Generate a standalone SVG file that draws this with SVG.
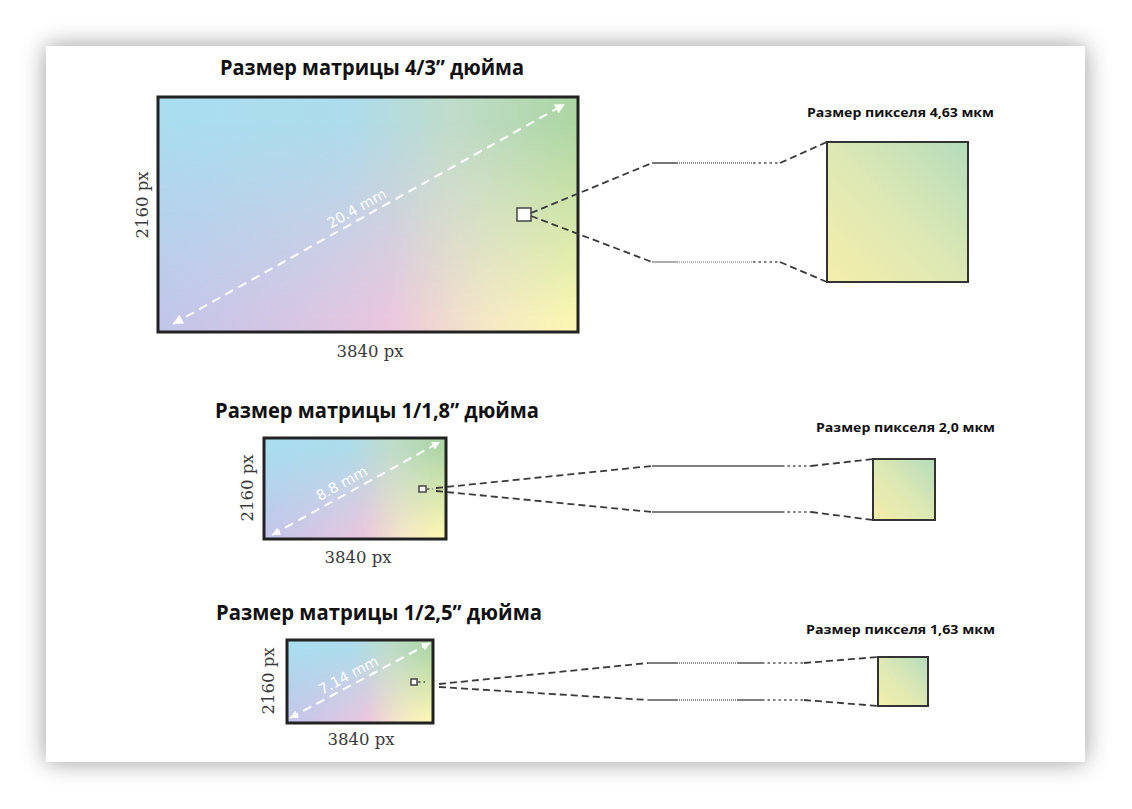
<svg xmlns="http://www.w3.org/2000/svg" width="1132" height="809" viewBox="0 0 1132 809">
<defs>
<style>
.title{font-family:"Open Sans","Liberation Sans",sans-serif;font-weight:700;font-size:21px;fill:#111}
.plabel{font-family:"Open Sans","Liberation Sans",sans-serif;font-weight:700;font-size:12.5px;fill:#111}
.dim{font-family:"DejaVu Serif","Liberation Serif",serif;font-size:16.5px;fill:#3a3a3a}
.diag{font-family:"DejaVu Sans","Liberation Sans",sans-serif;font-size:14.5px;fill:#fff}
.sensor{stroke:#222;stroke-width:3}
.pix{stroke:#333;stroke-width:2;fill:url(#pixg)}
.mark{fill:#fff;stroke:#444;stroke-width:1.5}
.dl{fill:none;stroke:#fff;stroke-width:2;stroke-dasharray:9 6}
.dash{fill:none;stroke:#3a3a3a;stroke-width:1.8;stroke-dasharray:7 4}
.solid{fill:none;stroke:#555;stroke-width:1.6}
.fine{fill:none;stroke:#666;stroke-width:1.6;stroke-dasharray:1 1}
.dot{fill:none;stroke:#555;stroke-width:1.6;stroke-dasharray:2.5 3}
</style>
<filter id="shadow" x="-10%" y="-10%" width="120%" height="120%">
<feDropShadow dx="0" dy="0" stdDeviation="12" flood-color="#000" flood-opacity="0.4"/>
</filter>
<linearGradient id="topg" x1="0" y1="0" x2="1" y2="0">
<stop offset="0" stop-color="#a9deef"/>
<stop offset="0.45" stop-color="#addcec"/>
<stop offset="0.7" stop-color="#c0dccb"/>
<stop offset="1" stop-color="#acd6a2"/>
</linearGradient>
<linearGradient id="botg" x1="0" y1="0" x2="1" y2="0">
<stop offset="0" stop-color="#c2c6ea"/>
<stop offset="0.3" stop-color="#d4c6e4"/>
<stop offset="0.55" stop-color="#eac6de"/>
<stop offset="0.78" stop-color="#f4e8c6"/>
<stop offset="1" stop-color="#fbf8b0"/>
</linearGradient>
<linearGradient id="vmask" x1="0" y1="0" x2="0" y2="1">
<stop offset="0.1" stop-color="#000"/>
<stop offset="0.95" stop-color="#fff"/>
</linearGradient>
<mask id="bm" maskContentUnits="objectBoundingBox">
<rect x="0" y="0" width="1" height="1" fill="url(#vmask)"/>
</mask>
<linearGradient id="pixg" x1="0" y1="1" x2="1" y2="0">
<stop offset="0" stop-color="#f4eeaa"/>
<stop offset="0.5" stop-color="#dde8b4"/>
<stop offset="1" stop-color="#b4dcbc"/>
</linearGradient>
<marker id="ah" viewBox="0 0 10 10" refX="10" refY="5" markerUnits="userSpaceOnUse" markerWidth="13" markerHeight="10" orient="auto-start-reverse">
<path d="M0,0 L10,5 L0,10 Z" fill="#fff"/>
</marker>
<marker id="ahs" viewBox="0 0 10 10" refX="10" refY="5" markerUnits="userSpaceOnUse" markerWidth="10" markerHeight="8" orient="auto-start-reverse">
<path d="M0,0 L10,5 L0,10 Z" fill="#fff"/>
</marker>
</defs>
<rect x="0" y="0" width="1132" height="809" fill="#fff"/>
<rect x="46" y="46" width="1039" height="716" fill="#fff" filter="url(#shadow)"/>

<g id="sensor-43">
<text class="title" x="220" y="75" textLength="304" lengthAdjust="spacingAndGlyphs">Размер матрицы 4/3” дюйма</text>
<rect x="158" y="97" width="420" height="235" fill="url(#topg)"/>
<rect x="158" y="97" width="420" height="235" fill="url(#botg)" mask="url(#bm)"/>
<rect x="158" y="97" width="420" height="235" fill="none" class="sensor"/>
<path class="dl" d="M173,324 L565,104" marker-start="url(#ah)" marker-end="url(#ah)"/>
<text class="diag" text-anchor="middle" transform="translate(362,218) rotate(-29.3)" x="0" y="-6">20.4 mm</text>
<rect class="mark" x="517" y="208" width="14" height="13"/>
<text class="dim" text-anchor="middle" transform="translate(148,205) rotate(-90)">2160 px</text>
<text class="dim" text-anchor="middle" x="370" y="357">3840 px</text>
</g>

<g id="pixel-463">
<text class="plabel" x="807" y="117" textLength="187" lengthAdjust="spacingAndGlyphs">Размер пикселя 4,63 мкм</text>
<rect class="pix" x="827" y="142" width="141" height="140"/>
</g>

<g id="sensor-118">
<text class="title" x="215" y="418" textLength="324" lengthAdjust="spacingAndGlyphs">Размер матрицы 1/1,8” дюйма</text>
<rect x="264" y="438" width="182" height="101" fill="url(#topg)"/>
<rect x="264" y="438" width="182" height="101" fill="url(#botg)" mask="url(#bm)"/>
<rect x="264" y="438" width="182" height="101" fill="none" class="sensor"/>
<path class="dl" d="M272,535 L440,442" marker-start="url(#ahs)" marker-end="url(#ahs)"/>
<text class="diag" text-anchor="middle" transform="translate(347,493) rotate(-29)" x="0" y="-6">8.8 mm</text>
<rect class="mark" x="419" y="486" width="7" height="6" stroke-width="1.3"/>
<text class="dim" text-anchor="middle" transform="translate(253,488) rotate(-90)">2160 px</text>
<text class="dim" text-anchor="middle" x="358" y="563">3840 px</text>
</g>

<g id="pixel-20">
<text class="plabel" x="816" y="432" textLength="179" lengthAdjust="spacingAndGlyphs">Размер пикселя 2,0 мкм</text>
<rect class="pix" x="873" y="459" width="62" height="61"/>
</g>

<g id="sensor-125">
<text class="title" x="216" y="620" textLength="326" lengthAdjust="spacingAndGlyphs">Размер матрицы 1/2,5” дюйма</text>
<rect x="287" y="640" width="146" height="83" fill="url(#topg)"/>
<rect x="287" y="640" width="146" height="83" fill="url(#botg)" mask="url(#bm)"/>
<rect x="287" y="640" width="146" height="83" fill="none" class="sensor"/>
<path class="dl" d="M290,718 L430,643" marker-start="url(#ahs)" marker-end="url(#ahs)"/>
<text class="diag" text-anchor="middle" transform="translate(353,684) rotate(-28.2)" x="0" y="-5">7.14 mm</text>
<rect class="mark" x="411" y="679" width="6" height="6" stroke-width="1.3"/>
<text class="dim" text-anchor="middle" transform="translate(274,681) rotate(-90)">2160 px</text>
<text class="dim" text-anchor="middle" x="361" y="745">3840 px</text>
</g>

<g id="pixel-163">
<text class="plabel" x="806" y="634" textLength="189" lengthAdjust="spacingAndGlyphs">Размер пикселя 1,63 мкм</text>
<rect class="pix" x="878" y="657" width="50" height="49"/>
</g>

<g id="connectors">
<path class="dash" d="M531,213 L652,163 M780,163 L827,142"/>
<path class="solid" d="M652,163 H677"/>
<path class="fine" d="M677,163 H753"/>
<path class="dot" d="M753,163 H780"/>
<path class="dash" d="M531,216 L652,262 M780,262 L827,282"/>
<path class="solid" d="M652,262 H677" style="stroke:#999"/>
<path class="fine" d="M677,262 H753" style="stroke:#999"/>
<path class="dot" d="M753,262 H780"/>

<path class="dot" d="M427,489 H433"/>
<path class="dash" d="M436,488 L652,466 M811,466 L873,459"/>
<path class="solid" d="M652,466 H782"/>
<path class="dot" d="M782,466 H811"/>
<path class="dash" d="M436,491 L652,512 M811,512 L873,520"/>
<path class="solid" d="M652,512 H782"/>
<path class="dot" d="M782,512 H811"/>

<path class="dot" d="M418,682 H425"/>
<path class="dash" d="M439,684 L648,663 M804,663 L878,657"/>
<path class="solid" d="M648,663 H677 M737,663 H762"/>
<path class="fine" d="M677,663 H737"/>
<path class="dot" d="M762,663 H804"/>
<path class="dash" d="M439,687 L648,700 M804,700 L878,706"/>
<path class="solid" d="M648,700 H677 M737,700 H762"/>
<path class="fine" d="M677,700 H737"/>
<path class="dot" d="M762,700 H804"/>
</g>
</svg>
